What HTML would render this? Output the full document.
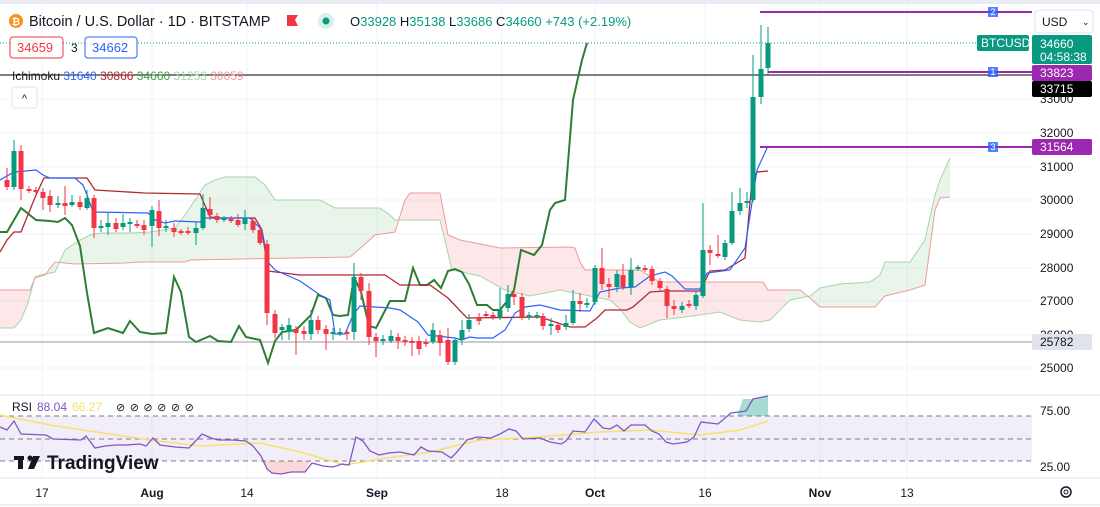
<!DOCTYPE html>
<html><head><meta charset="utf-8"><style>
body{margin:0;background:#fff;}
svg{display:block;font-family:"Liberation Sans",sans-serif;}
</style></head><body>
<svg id="s" width="1100" height="507" viewBox="0 0 1100 507" xmlns="http://www.w3.org/2000/svg">
<rect x="0" y="0" width="1100" height="507" fill="#fff"/>
<rect x="0" y="0" width="1100" height="4" fill="#e9ecf2"/>
<g stroke="#f0f3fa" stroke-width="1">
<line x1="42" y1="4" x2="42" y2="478"/><line x1="152" y1="4" x2="152" y2="478"/><line x1="247" y1="4" x2="247" y2="478"/><line x1="377" y1="4" x2="377" y2="478"/><line x1="502" y1="4" x2="502" y2="478"/><line x1="595" y1="4" x2="595" y2="478"/><line x1="705" y1="4" x2="705" y2="478"/><line x1="820" y1="4" x2="820" y2="478"/><line x1="907" y1="4" x2="907" y2="478"/>
<line x1="0" y1="99" x2="1032" y2="99"/><line x1="0" y1="133" x2="1032" y2="133"/><line x1="0" y1="167" x2="1032" y2="167"/><line x1="0" y1="200" x2="1032" y2="200"/><line x1="0" y1="234" x2="1032" y2="234"/><line x1="0" y1="268" x2="1032" y2="268"/><line x1="0" y1="301" x2="1032" y2="301"/><line x1="0" y1="335" x2="1032" y2="335"/><line x1="0" y1="368" x2="1032" y2="368"/>
</g>
<line x1="0" y1="395" x2="1100" y2="395" stroke="#e0e3eb"/>
<line x1="0" y1="478" x2="1100" y2="478" stroke="#e0e3eb"/>
<line x1="0" y1="505" x2="1100" y2="505" stroke="#e0e3eb"/>
<defs>
<clipPath id="cg"><rect x="35" y="0" width="366" height="400"/><rect x="786" y="0" width="170" height="400"/></clipPath>
<clipPath id="cr"><rect x="0" y="0" width="35" height="400"/><rect x="401" y="0" width="385" height="400"/></clipPath>
</defs>
<g id="cloud"></g>
<line x1="0" y1="43" x2="1032" y2="43" stroke="#089981" stroke-dasharray="1 2"/>
<line x1="0" y1="75" x2="1032" y2="75" stroke="#000"/>
<line x1="0" y1="342" x2="1032" y2="342" stroke="#9598a1"/>
<g id="lines"></g>
<g id="candles"></g>
<g stroke="#9c27b0" stroke-width="2">
<line x1="760" y1="12" x2="1032" y2="12"/><line x1="768" y1="72" x2="1032" y2="72"/><line x1="760" y1="147" x2="1032" y2="147"/>
</g>
<g font-size="9" fill="#fff" text-anchor="middle">
<rect x="988" y="7" width="10" height="10" fill="#2962ff" opacity="0.8"/><text x="993" y="15">2</text>
<rect x="988" y="67" width="10" height="10" fill="#2962ff" opacity="0.8"/><text x="993" y="75">1</text>
<rect x="988" y="142" width="10" height="10" fill="#2962ff" opacity="0.8"/><text x="993" y="150">3</text>
</g>
<!-- RSI pane -->
<rect x="0" y="416" width="1032" height="45" fill="#7e57c2" opacity="0.1"/>
<g stroke="#787b86" stroke-dasharray="5 4" stroke-width="1"><line x1="0" y1="416" x2="1032" y2="416"/><line x1="0" y1="439" x2="1032" y2="439"/><line x1="0" y1="461" x2="1032" y2="461"/></g>
<polygon points="262,461 267,469 272,473 281,474 291,472 305,472 310,461" fill="#f23645" opacity="0.2"/>
<polygon points="737,416 743,399 753,399 768,396 768,416" fill="#089981" opacity="0.35"/>
<polyline fill="none" stroke="#f7e16b" stroke-width="1.5" points="0,415 50,425 150,440 200,446 260,443 300,452 345,465 380,459 430,452 480,440 540,437 600,432 650,430 700,435 740,430 768,421"/>
<polyline fill="none" stroke="#7e57c2" stroke-width="1.3" points="0,427 7,430 14,421 21,434 46,435 53,439 81,440 86,436 95,448 105,446 116,445 126,445 140,444 146,446 153,438 160,445 175,447 189,448 202,434 211,438 218,440 232,440 246,441 253,446 261,456 267,469 272,473 281,474 291,472 305,472 312,463 323,466 333,467 342,464 349,465 356,437 363,441 370,451 379,455 389,453 400,452 414,455 421,447 428,451 442,452 451,458 456,453 467,440 477,437 491,438 500,434 509,429 516,431 523,439 540,438 550,442 561,444 566,441 573,431 585,432 594,419 603,428 610,429 617,425 624,431 631,425 645,425 652,431 659,434 666,442 673,444 687,442 694,437 701,422 718,424 731,413 746,411 753,399 768,396"/>
<text x="12" y="411" font-size="12" fill="#131722">RSI</text>
<text x="37" y="411" font-size="12" fill="#7e57c2">88.04</text>
<text x="72" y="411" font-size="12" fill="#f7e16b">66.27</text>
<text x="116" y="411" font-size="11" fill="#131722" letter-spacing="4.5">⊘⊘⊘⊘⊘⊘</text>
<g fill="#131722"><rect x="14" y="456" width="10" height="4"/><rect x="18" y="456" width="5" height="13"/><circle cx="30" cy="458" r="2.5"/><polygon points="33,456 40,456 34,469 28,469"/></g>
<text x="47" y="469" font-size="19" font-weight="bold" fill="#131722">TradingView</text>
<g font-size="12" fill="#131722">
<text x="1040" y="415">75.00</text><text x="1040" y="471">25.00</text>
</g>
<g font-size="12" fill="#131722" text-anchor="middle">
<text x="42" y="497">17</text><text x="152" y="497" font-weight="bold">Aug</text><text x="247" y="497">14</text><text x="377" y="497" font-weight="bold">Sep</text><text x="502" y="497">18</text><text x="595" y="497" font-weight="bold">Oct</text><text x="705" y="497">16</text><text x="820" y="497" font-weight="bold">Nov</text><text x="907" y="497">13</text>
</g>
<circle cx="1066" cy="492" r="5" fill="none" stroke="#131722" stroke-width="1.5"/><circle cx="1066" cy="492" r="2" fill="none" stroke="#131722"/>
<!-- price axis -->
<g font-size="12" fill="#131722">
<text x="1040" y="103">33000</text><text x="1040" y="137">32000</text><text x="1040" y="171">31000</text><text x="1040" y="204">30000</text><text x="1040" y="238">29000</text><text x="1040" y="272">28000</text><text x="1040" y="305">27000</text><text x="1040" y="339">26000</text><text x="1040" y="372">25000</text>
</g>
<rect x="1035" y="10" width="58" height="23" rx="4" fill="#fff" stroke="#e0e3eb"/>
<text x="1042" y="26" font-size="12" fill="#131722">USD</text><text x="1082" y="25" font-size="9" fill="#131722">⌄</text>
<rect x="977" y="35" width="52" height="16" rx="2" fill="#089981"/><text x="981" y="47" font-size="12" fill="#fff">BTCUSD</text>
<rect x="1032" y="35" width="60" height="29" rx="2" fill="#089981"/><text x="1040" y="48" font-size="12" fill="#fff">34660</text><text x="1040" y="61" font-size="12" fill="#fff">04:58:38</text>
<rect x="1032" y="65" width="60" height="16" rx="2" fill="#9c27b0"/><text x="1040" y="77" font-size="12" fill="#fff">33823</text>
<rect x="1032" y="81" width="60" height="16" rx="2" fill="#000"/><text x="1040" y="93" font-size="12" fill="#fff">33715</text>
<rect x="1032" y="139" width="60" height="16" rx="2" fill="#9c27b0"/><text x="1040" y="151" font-size="12" fill="#fff">31564</text>
<rect x="1032" y="334" width="60" height="16" rx="2" fill="#e0e3eb"/><text x="1040" y="346" font-size="12" fill="#131722">25782</text>
<!-- header -->
<circle cx="16" cy="21" r="7" fill="#f7931a"/><text x="16" y="25" font-size="10" fill="#fff" text-anchor="middle" font-weight="bold">₿</text>
<text x="29" y="26" font-size="14.5" fill="#131722">Bitcoin / U.S. Dollar · 1D · BITSTAMP</text>
<polygon points="287,15 298,15 295,20 298,26 287,26" fill="#f23645"/>
<circle cx="326" cy="21" r="8" fill="#d6f0ea"/><circle cx="326" cy="21" r="3.5" fill="#089981"/>
<text x="350" y="26" font-size="13" fill="#089981"><tspan fill="#131722">O</tspan>33928 <tspan fill="#131722">H</tspan>35138 <tspan fill="#131722">L</tspan>33686 <tspan fill="#131722">C</tspan>34660 +743 (+2.19%)</text>
<rect x="10" y="37" width="53" height="21" rx="3" fill="#fff" stroke="#f23645"/><text x="17" y="52" font-size="13" fill="#f23645">34659</text>
<text x="71" y="52" font-size="12" fill="#131722">3</text>
<rect x="85" y="37" width="52" height="21" rx="3" fill="#fff" stroke="#2962ff"/><text x="92" y="52" font-size="13" fill="#2962ff">34662</text>
<text x="12" y="80" font-size="12" fill="#131722">Ichimoku <tspan fill="#2962ff">31640</tspan> <tspan fill="#b22833">30866</tspan> <tspan fill="#43a047">34660</tspan> <tspan fill="#a5d6a7">31253</tspan> <tspan fill="#ef9a9a">30059</tspan></text>
<rect x="12" y="87" width="25" height="21" rx="3" fill="#fff" stroke="#e0e3eb"/><text x="24.5" y="102" font-size="11" fill="#131722" text-anchor="middle">^</text>
</svg>
<script>
var NS="http://www.w3.org/2000/svg";
function el(p,t,a){var e=document.createElementNS(NS,t);for(var k in a)e.setAttribute(k,a[k]);p.appendChild(e);return e;}
var L1="0,328 14,328 21,320 28,303 35,277 40,275 55,272 65,250 80,240 90,235 100,233 130,233 150,232 175,228 185,215 195,200 205,185 215,180 225,177 255,177 265,185 275,200 320,200 335,208 380,208 390,215 395,220 440,220 452,270 480,276 505,290 530,296 545,293 560,290 610,300 620,309 630,322 640,328 660,320 700,315 720,312 740,320 760,322 770,320 780,310 790,300 810,296 820,288 840,284 870,282 880,275 885,262 910,262 925,240 935,195 940,180 950,158";
var L2="0,290 30,290 35,278 45,275 55,262 75,264 125,263 140,262 185,262 190,260 350,257 365,244 375,235 395,232 405,200 410,193 440,193 448,235 460,240 480,244 500,248 570,247 575,248 580,262 585,270 640,270 660,282 763,282 768,290 800,290 810,298 820,307 875,307 885,296 910,290 925,285 935,210 940,198 950,197";
var rev=L2.split(" ").reverse().join(" ");
var cl=document.getElementById("cloud");
el(cl,"polygon",{points:L1+" "+rev,fill:"#4caf50","fill-opacity":"0.12","clip-path":"url(#cg)"});
el(cl,"polygon",{points:L1+" "+rev,fill:"#f23645","fill-opacity":"0.12","clip-path":"url(#cr)"});
el(cl,"polyline",{points:L1,fill:"none",stroke:"#a5d6a7","stroke-width":"1"});
el(cl,"polyline",{points:L2,fill:"none",stroke:"#ef9a9a","stroke-width":"1"});
var ln=document.getElementById("lines");
el(ln,"polyline",{fill:"none",stroke:"#2e7d32","stroke-width":"2",points:"0,232 7,232 21,208 36,220 50,221 58,222 65,218 72,225 80,246 87,293 94,333 108,328 123,333 130,321 140,332 152,334 166,333 174,277 181,292 189,337 196,342 210,336 218,341 231,342 239,326 246,337 260,340 268,363 275,341 282,332 296,330 311,315 318,295 326,298 333,315 340,316 348,315 354,277 361,292 369,326 376,328 390,301 405,301 413,268 420,285 427,285 434,280 441,288 448,271 455,269 462,272 469,284 477,305 487,305 493,310 500,310 508,300 514,290 521,250 534,255 542,245 550,210 555,203 565,200 573,100 582,60 587,43"});
el(ln,"polyline",{fill:"none",stroke:"#b22833","stroke-width":"1.3",points:"0,252 7,240 14,232 21,232 36,195 44,178 87,178 95,190 145,193 200,194 210,217 220,218 255,218 262,230 268,271 300,275 385,275 400,285 430,285 448,298 467,318 540,317 570,327 585,327 597,318 605,310 627,310 633,307 650,292 665,291 700,291 710,271 725,270 745,258 752,180 757,172 768,171"});
el(ln,"polyline",{fill:"none",stroke:"#2962ff","stroke-width":"1.2",points:"0,180 14,172 36,170 43,175 50,178 75,178 83,185 87,195 93,212 148,213 155,220 165,223 175,221 200,222 205,218 250,218 262,230 268,262 275,270 300,281 320,295 330,300 335,334 345,334 353,315 360,306 390,308 400,310 418,322 428,335 455,338 461,340 470,337 477,338 493,338 505,330 515,313 525,307 540,305 560,310 590,311 600,292 620,288 635,287 650,276 665,272 672,276 685,289 700,289 707,273 730,270 745,248 757,170 768,146"});
var C=[[7,180,187,0,168,190],[14,151,187,1,140,190],[21,151,189,0,145,200],[29,189,191,0,186,193],[36,190,192,0,187,194],[43,192,198,0,188,210],[50,196,205,0,190,212],[58,203,205,1,196,208],[65,203,206,0,186,215],[72,202,205,1,195,207],[80,202,207,0,196,210],[87,198,208,1,190,210],[94,198,228,0,195,238],[101,226,228,1,220,232],[108,223,227,1,212,235],[116,223,229,0,218,232],[123,223,227,1,214,230],[130,222,224,1,218,232],[137,224,226,0,220,228],[144,225,230,0,220,235],[152,210,226,1,206,247],[159,211,228,0,200,236],[166,226,228,1,220,232],[174,228,232,0,223,237],[181,231,233,0,229,235],[188,231,233,0,227,235],[196,228,233,1,222,245],[203,208,228,1,194,230],[210,209,215,0,197,220],[217,216,220,0,213,223],[224,218,220,1,216,222],[231,219,221,0,216,223],[238,220,225,0,214,227],[245,218,224,1,210,230],[253,221,230,0,218,233],[260,230,243,0,225,245],[267,244,313,0,240,325],[275,314,333,0,310,338],[282,327,330,1,324,340],[289,325,332,1,318,340],[296,329,333,0,326,355],[304,331,334,0,326,340],[311,320,334,1,310,340],[318,320,330,0,316,334],[326,329,334,0,325,350],[333,332,334,1,328,340],[340,332,334,1,328,336],[347,332,334,0,330,340],[354,277,332,1,263,340],[361,277,291,0,273,300],[369,291,337,0,283,345],[376,337,341,0,333,357],[383,339,341,1,335,345],[391,336,341,1,330,343],[398,337,341,0,333,349],[405,340,342,0,336,346],[412,341,343,0,337,356],[419,341,349,0,336,355],[426,342,344,0,339,347],[433,330,342,1,323,344],[440,335,343,0,330,356],[448,340,362,0,328,365],[455,340,362,1,338,365],[462,330,340,1,320,345],[469,320,329,1,314,332],[479,318,321,0,313,325],[486,314,316,0,311,318],[493,315,317,0,312,320],[500,310,317,1,288,320],[508,294,308,1,285,312],[514,294,297,0,290,305],[522,297,317,0,293,320],[529,315,317,1,312,320],[537,315,317,1,312,319],[543,316,326,0,313,330],[551,324,326,1,318,335],[558,325,330,0,322,333],[566,323,327,1,315,330],[573,301,323,1,290,325],[580,301,304,0,293,312],[587,303,305,1,298,308],[595,268,302,1,265,305],[602,268,284,0,248,290],[609,284,287,0,278,298],[617,274,287,1,270,292],[623,275,287,0,264,290],[631,270,287,1,258,295],[638,267,269,1,265,271],[645,268,270,0,265,272],[652,269,281,0,266,285],[660,281,288,0,278,292],[667,289,306,0,286,318],[674,306,309,0,300,315],[682,306,310,1,302,313],[689,304,306,0,300,308],[696,295,306,1,291,310],[703,250,296,1,203,298],[710,250,253,0,245,265],[718,254,256,0,235,258],[725,243,257,1,240,260],[732,211,243,1,192,245],[740,203,211,1,188,215],[747,201,203,1,192,208],[753,97,200,1,55,202],[761,69,97,1,25,104],[768,43,68,1,27,75]];
var cg=document.getElementById("candles");
C.forEach(function(c){var col=c[3]?"#089981":"#f23645";
el(cg,"line",{x1:c[0],x2:c[0],y1:c[4],y2:c[5],stroke:col,"stroke-width":"1"});
el(cg,"rect",{x:c[0]-2.5,y:c[1],width:5,height:Math.max(1.5,c[2]-c[1]),fill:col});});
</script>
</body></html>
